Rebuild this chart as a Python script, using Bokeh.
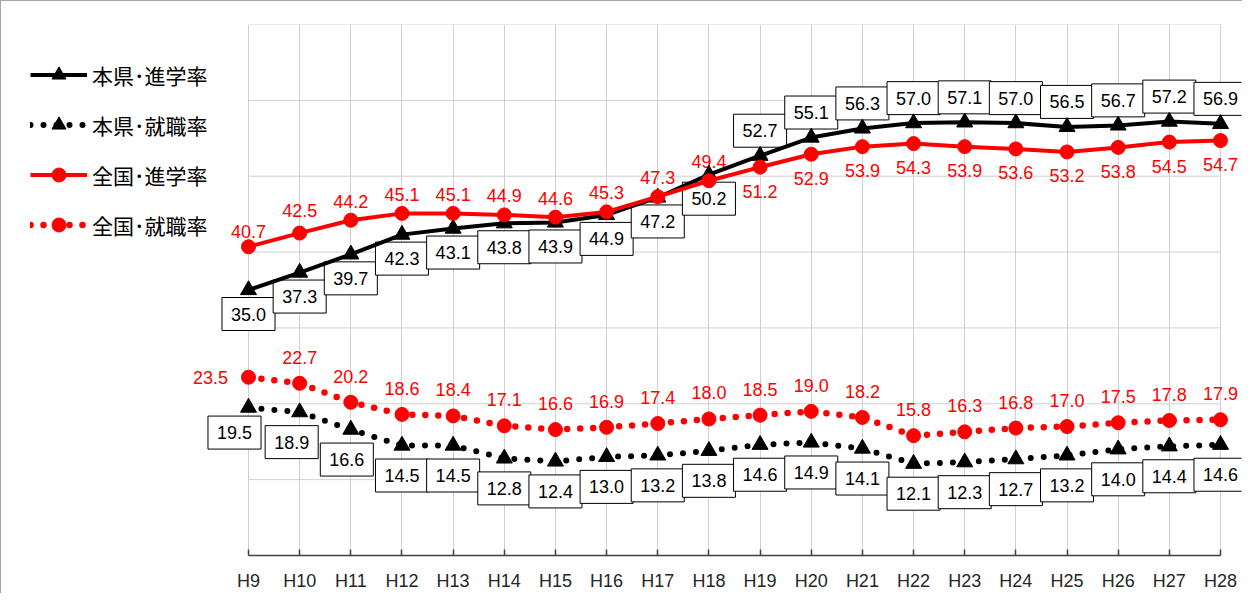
from bokeh.plotting import figure
from bokeh.models import ColumnDataSource, Range1d, FixedTicker, Legend, LegendItem
from bokeh.embed import file_html
from bokeh.resources import INLINE
from bokeh.core.properties import value

years = ["H9", "H10", "H11", "H12", "H13", "H14", "H15", "H16", "H17", "H18",
         "H19", "H20", "H21", "H22", "H23", "H24", "H25", "H26", "H27", "H28"]
ken_shingaku = [35.0, 37.3, 39.7, 42.3, 43.1, 43.8, 43.9, 44.9, 47.2, 50.2,
                52.7, 55.1, 56.3, 57.0, 57.1, 57.0, 56.5, 56.7, 57.2, 56.9]
ken_shushoku = [19.5, 18.9, 16.6, 14.5, 14.5, 12.8, 12.4, 13.0, 13.2, 13.8,
                14.6, 14.9, 14.1, 12.1, 12.3, 12.7, 13.2, 14.0, 14.4, 14.6]
zen_shingaku = [40.7, 42.5, 44.2, 45.1, 45.1, 44.9, 44.6, 45.3, 47.3, 49.4,
                51.2, 52.9, 53.9, 54.3, 53.9, 53.6, 53.2, 53.8, 54.5, 54.7]
zen_shushoku = [23.5, 22.7, 20.2, 18.6, 18.4, 17.1, 16.6, 16.9, 17.4, 18.0,
                18.5, 19.0, 18.2, 15.8, 16.3, 16.8, 17.0, 17.5, 17.8, 17.9]
y_ticks = [0, 10, 20, 30, 40, 50, 60, 70]
series_names = ["本県･進学率", "本県･就職率", "全国･進学率", "全国･就職率"]

n = len(years)
xs = list(range(n))

# ---- layout (screen px) ----
AREA_W = 972           # width spanned by H9..H28
FRAME_L_PAD = 236      # frame extends left of H9 (room for legend / labels)
FRAME_R_PAD = 21       # frame extends right of H28
k = AREA_W / (n - 1)
x_start = -FRAME_L_PAD / k
x_end = (n - 1) + FRAME_R_PAD / k

# label placement (screen px offsets)
ks_off = [24 if i < 10 else -25 for i in range(n)]
zs_off = [-19 if i < 10 else 24 for i in range(n)]
kj_off = [30] * n
zj_off = [-26] * n
kj_xoff = [0] * n
zj_xoff = [0] * n
kj_xoff[0], kj_xoff[1], kj_xoff[2] = -14, -8, -4
kj_off[0] = 25
zj_xoff[0] = -38
zj_off[0] = 0
zs_off[0] = -15
zs_off[1] = -23

fmt = lambda v: f"{v:.1f}"
src = ColumnDataSource(dict(
    x=xs,
    ks=ken_shingaku, kj=ken_shushoku, zs=zen_shingaku, zj=zen_shushoku,
    ks_t=[fmt(v) for v in ken_shingaku], kj_t=[fmt(v) for v in ken_shushoku],
    zs_t=[fmt(v) for v in zen_shingaku], zj_t=[fmt(v) for v in zen_shushoku],
    ks_off=ks_off, zs_off=zs_off, kj_off=kj_off, zj_off=zj_off,
    kj_xoff=kj_xoff, zj_xoff=zj_xoff,
))

p = figure(frame_width=AREA_W + FRAME_L_PAD + FRAME_R_PAD, frame_height=531,
           x_range=Range1d(x_start, x_end), y_range=Range1d(y_ticks[0], y_ticks[-1]),
           output_backend="svg", toolbar_location=None,
           min_border_left=11, min_border_top=23,
           min_border_right=1, min_border_bottom=38)
p.styles = {"border-left": "1px solid #a6a6a6", "border-top": "1px solid #a6a6a6"}
p.outline_line_color = None
p.background_fill_color = "white"
p.border_fill_color = "white"

p.xaxis.ticker = FixedTicker(ticks=xs)
p.xaxis.bounds = (0, n - 1)
p.xaxis.major_label_overrides = {i: y for i, y in enumerate(years)}
p.xaxis.major_label_text_font = "Liberation Sans"
p.xaxis.major_label_text_font_size = "18px"
p.xaxis.major_label_text_color = "#262626"
p.xaxis.major_label_standoff = 15
p.xaxis.axis_line_color = "#404040"
p.xaxis.axis_line_width = 1.5
p.xaxis.major_tick_line_color = "#404040"
p.xaxis.major_tick_line_width = 1.5
p.xaxis.major_tick_in = 6
p.xaxis.major_tick_out = 0
p.xaxis.minor_tick_line_color = None
p.yaxis.visible = False
p.ygrid.visible = False
p.xgrid.ticker = FixedTicker(ticks=xs)
p.xgrid.grid_line_color = "#d0d0d0"
p.xgrid.grid_line_width = 1

# horizontal gridlines limited to the H9..H28 span
p.segment(x0=[0] * len(y_ticks), x1=[n - 1] * len(y_ticks), y0=y_ticks, y1=y_ticks,
          line_color="#d0d0d0", line_width=1, level="underlay")

num_font = value("Liberation Sans")
box = dict(text_align="center", text_baseline="middle", text_font=num_font,
           text_font_size="18px", text_color="black",
           background_fill_color="white", border_line_color="black",
           border_line_width=1, padding=(9, 10))
red = dict(text_align="center", text_baseline="middle", text_font=num_font,
           text_font_size="18px", text_color="#ff0000")

p.text(x="x", y="ks", text="ks_t", y_offset="ks_off", source=src, **box)
p.text(x="x", y="kj", text="kj_t", x_offset="kj_xoff", y_offset="kj_off", source=src, **box)
p.text(x="x", y="zs", text="zs_t", y_offset="zs_off", source=src, **red)
p.text(x="x", y="zj", text="zj_t", x_offset="zj_xoff", y_offset="zj_off", source=src, **red)

r1l = p.line("x", "ks", source=src, line_color="black", line_width=4)
r1m = p.scatter("x", "ks", source=src, marker="triangle", size=16, color="black")
r2l = p.line("x", "kj", source=src, line_color="black", line_width=6,
             line_dash="0 13", line_cap="round")
r2m = p.scatter("x", "kj", source=src, marker="triangle", size=16, color="black")
r3l = p.line("x", "zs", source=src, line_color="#ff0000", line_width=4)
r3m = p.scatter("x", "zs", source=src, marker="circle", size=14, color="#ff0000")
r4l = p.line("x", "zj", source=src, line_color="#ff0000", line_width=6.5,
             line_dash="0 13", line_cap="round")
r4m = p.scatter("x", "zj", source=src, marker="circle", size=14, color="#ff0000")

legend = Legend(items=[
    LegendItem(label=series_names[0], renderers=[r1l, r1m]),
    LegendItem(label=series_names[1], renderers=[r2l, r2m]),
    LegendItem(label=series_names[2], renderers=[r3l, r3m]),
    LegendItem(label=series_names[3], renderers=[r4l, r4m]),
], location=(18, 313), orientation="vertical", padding=0, margin=0,
    spacing=15, glyph_width=57, glyph_height=35, label_height=35,
    label_standoff=5, label_text_font="Noto Sans CJK JP",
    label_text_font_size="21px", label_text_color="black",
    border_line_color=None, background_fill_alpha=0)
p.add_layout(legend)

open("out.html", "w").write(file_html(p, INLINE))
